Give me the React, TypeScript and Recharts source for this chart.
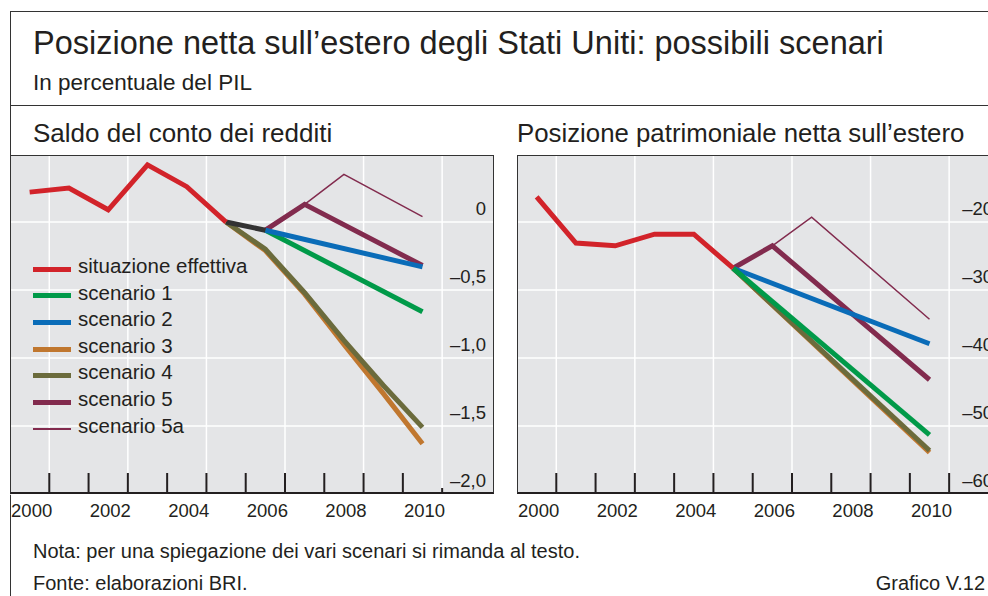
import React from 'react';
import { LineChart, Line, XAxis, YAxis, CartesianGrid, ReferenceLine } from 'recharts';

// Anni e valori
const years = [2000, 2001, 2002, 2003, 2004, 2005, 2006, 2007, 2008, 2009, 2010];

// Saldo del conto dei redditi (% del PIL)
const redEffettiva = [0.22, 0.25, 0.09, 0.42, 0.26, 0.0, null, null, null, null, null];
const redComune = [null, null, null, null, null, 0.0, -0.06, null, null, null, null];
const redScen1 = [null, null, null, null, null, null, -0.06, null, null, null, -0.66];
const redScen2 = [null, null, null, null, null, null, -0.06, null, null, null, -0.33];
const redScen3 = [null, null, null, null, null, 0.0, -0.21, -0.53, -0.9, -1.26, -1.63];
const redScen4 = [null, null, null, null, null, 0.0, -0.2, -0.52, -0.87, -1.2, -1.51];
const redScen5 = [null, null, null, null, null, null, -0.06, 0.13, null, null, -0.32];
const redScen5a = [null, null, null, null, null, null, null, 0.13, 0.35, null, 0.04];

// Posizione patrimoniale netta sull'estero (% del PIL)
const patEffettiva = [-16.3, -23.1, -23.5, -21.8, -21.8, -26.8, null, null, null, null, null];
const patScen1 = [null, null, null, null, null, -26.8, null, null, null, null, -51.3];
const patScen2 = [null, null, null, null, null, -26.8, null, null, null, null, -37.9];
const patScen3 = [null, null, null, null, null, -26.8, null, null, null, null, -53.9];
const patScen4 = [null, null, null, null, null, -26.8, null, null, null, null, -53.6];
const patScen5 = [null, null, null, null, null, -26.8, -23.5, null, null, null, -43.2];
const patScen5a = [null, null, null, null, null, null, -23.5, -19.3, null, null, -34.3];

const redTicks = [-2, -1.5, -1, -0.5, 0];
const patTicks = [-60, -50, -40, -30, -20];

const C = {
  eff: '#d2232a',
  s1: '#009a49',
  s2: '#0a6cb8',
  s3: '#c0772f',
  s4: '#6b6b3c',
  s5: '#822b4e',
  comune: '#333333',
};

const legendItems = [
  { name: 'situazione effettiva', color: C.eff, w: 5 },
  { name: 'scenario 1', color: C.s1, w: 5 },
  { name: 'scenario 2', color: C.s2, w: 5 },
  { name: 'scenario 3', color: C.s3, w: 5 },
  { name: 'scenario 4', color: C.s4, w: 5 },
  { name: 'scenario 5', color: C.s5, w: 5 },
  { name: 'scenario 5a', color: C.s5, w: 1.5 },
];

const FONT = '"Liberation Sans", Arial, Helvetica, sans-serif';
const TXT = '#231f20';
const xTicks = years.flatMap((y) => [y, y + 0.5]);
const gridYears = years.filter((y) => y % 2 === 0).map((y) => y + 0.5);

const redData = years.map((year, i) => ({
  year,
  eff: redEffettiva[i],
  com: redComune[i],
  s1: redScen1[i],
  s2: redScen2[i],
  s3: redScen3[i],
  s4: redScen4[i],
  s5: redScen5[i],
  s5a: redScen5a[i],
}));

const patData = years.map((year, i) => ({
  year,
  eff: patEffettiva[i],
  s1: patScen1[i],
  s2: patScen2[i],
  s3: patScen3[i],
  s4: patScen4[i],
  s5: patScen5[i],
  s5a: patScen5a[i],
}));

const fmtPat = (v: number) => (v < 0 ? '\u2013' : '') + Math.abs(v);
const fmtRed = (v: number) => (v === 0 ? '0' : (v < 0 ? '\u2013' : '') + Math.abs(v).toFixed(1).replace('.', ','));

const XTick = (props: any) => {
  const { x, y, payload, shortLast } = props;
  const v = payload.value as number;
  if (!Number.isInteger(v)) {
    const len = shortLast && v === 2010.5 ? 6 : 21;
    return <line x1={x} x2={x} y1={y} y2={y - len} stroke="#231f20" strokeWidth={2} />;
  }
  if (v % 2 !== 0) return <g />;
  return (
    <text x={x + 2} y={y + 23} textAnchor="middle" fontSize={18.5} fontFamily={FONT} fill={TXT}>
      {v}
    </text>
  );
};

const YTick = (props: any) => {
  const { x, y, payload, fmt } = props;
  return (
    <text x={x - 8} y={y - 7} textAnchor="end" fontSize={18.5} fontFamily={FONT} fill={TXT}>
      {fmt(payload.value)}
    </text>
  );
};

const W = 484;
const PH = 339;
const H = PH + 30;

const Panel = ({ data, domain, ticks, fmt, shortLast, children }: any) => (
  <div style={{ position: 'relative', width: W, height: H }}>
    <LineChart width={W} height={H} data={data} margin={{ top: 0, right: 0, bottom: 0, left: 0 }}>
      <CartesianGrid vertical={false} stroke="#ffffff" strokeWidth={1.5} fill="#e4e5e7" fillOpacity={1} />
      {gridYears.map((g) => (
        <ReferenceLine key={g} x={g} stroke="#ffffff" strokeWidth={1.5} />
      ))}
      <XAxis
        dataKey="year"
        type="number"
        domain={[1999.5, 2011.82]}
        allowDataOverflow
        ticks={xTicks}
        interval={0}
        height={30}
        tickSize={0}
        tickMargin={0}
        axisLine={false}
        tickLine={false}
        tick={<XTick shortLast={shortLast} />}
      />
      <YAxis
        orientation="right"
        mirror
        type="number"
        domain={domain}
        allowDataOverflow
        ticks={ticks}
        interval={0}
        width={60}
        tickSize={0}
        tickMargin={0}
        axisLine={false}
        tickLine={false}
        tick={<YTick fmt={fmt} />}
      />
      {children}
    </LineChart>
    <div
      style={{
        position: 'absolute',
        left: 0,
        top: 0,
        width: W,
        height: PH,
        boxSizing: 'border-box',
        borderTop: '1.5px solid #333',
        borderLeft: '1.5px solid #333',
        borderRight: '1.5px solid #333',
        borderBottom: '2px solid #231f20',
        pointerEvents: 'none',
      }}
    />
  </div>
);

const line = (key: string, color: string, w = 5) => (
  <Line
    key={key}
    type="linear"
    dataKey={key}
    stroke={color}
    strokeWidth={w}
    dot={false}
    activeDot={false}
    connectNulls
    isAnimationActive={false}
    strokeLinejoin="miter"
  />
);

const abs = (left: number, top: number, extra: any = {}) => ({
  position: 'absolute' as const,
  left,
  top,
  whiteSpace: 'nowrap' as const,
  color: TXT,
  ...extra,
});

export default function App() {
  return (
    <div
      style={{
        position: 'absolute',
        left: 0,
        top: 0,
        width: 988,
        height: 596,
        overflow: 'hidden',
        background: '#ffffff',
        fontFamily: FONT,
      }}
    >
      {/* cornice */}
      <div
        style={{
          position: 'absolute',
          left: 10,
          top: 11,
          width: 1000,
          height: 600,
          borderTop: '1.5px solid #333',
          borderLeft: '1.5px solid #333',
        }}
      />
      <div style={{ position: 'absolute', left: 10, top: 105, width: 1000, borderTop: '1.5px solid #333' }} />

      <div style={abs(33, 25, { fontSize: 32.5, lineHeight: '36px' })}>
        Posizione netta sull’estero degli Stati Uniti: possibili scenari
      </div>
      <div style={abs(33, 70, { fontSize: 22.5, lineHeight: '26px' })}>In percentuale del PIL</div>
      <div style={abs(33, 118, { fontSize: 26, lineHeight: '30px' })}>Saldo del conto dei redditi</div>
      <div style={abs(517, 118, { fontSize: 25.8, lineHeight: '30px' })}>
        Posizione patrimoniale netta sull’estero
      </div>

      <div style={{ position: 'absolute', left: 10, top: 155 }}>
        <Panel data={redData} domain={[-2, 0.493]} ticks={redTicks} fmt={fmtRed} shortLast>
          {line('s5a', C.s5, 1.5)}
          {line('s5', C.s5)}
          {line('s3', C.s3)}
          {line('s4', C.s4)}
          {line('s1', C.s1)}
          {line('s2', C.s2)}
          {line('com', C.comune)}
          {line('eff', C.eff)}
        </Panel>
        {/* legenda */}
        <div style={{ position: 'absolute', left: 23, top: 101 }}>
          {legendItems.map((it) => (
            <div key={it.name} style={{ position: 'relative', height: 26.6, width: 240 }}>
              <div
                style={{
                  position: 'absolute',
                  left: 0,
                  top: 13.3 - it.w / 2,
                  width: 38,
                  height: it.w,
                  background: it.color,
                }}
              />
              <div style={abs(45, -2, { fontSize: 20.5, lineHeight: '24px' })}>{it.name}</div>
            </div>
          ))}
        </div>
      </div>

      <div style={{ position: 'absolute', left: 517, top: 155 }}>
        <Panel data={patData} domain={[-60, -10.15]} ticks={patTicks} fmt={fmtPat}>
          {line('s5a', C.s5, 1.5)}
          {line('s5', C.s5)}
          {line('s3', C.s3)}
          {line('s4', C.s4)}
          {line('s2', C.s2)}
          {line('s1', C.s1)}
          {line('eff', C.eff)}
        </Panel>
      </div>

      <div style={abs(33, 539, { fontSize: 20, lineHeight: '24px' })}>
        Nota: per una spiegazione dei vari scenari si rimanda al testo.
      </div>
      <div style={abs(33, 571, { fontSize: 20, lineHeight: '24px' })}>Fonte: elaborazioni BRI.</div>
      <div style={abs(0, 571, { fontSize: 20, lineHeight: '24px', width: 985, textAlign: 'right' })}>
        Grafico V.12
      </div>
    </div>
  );
}
